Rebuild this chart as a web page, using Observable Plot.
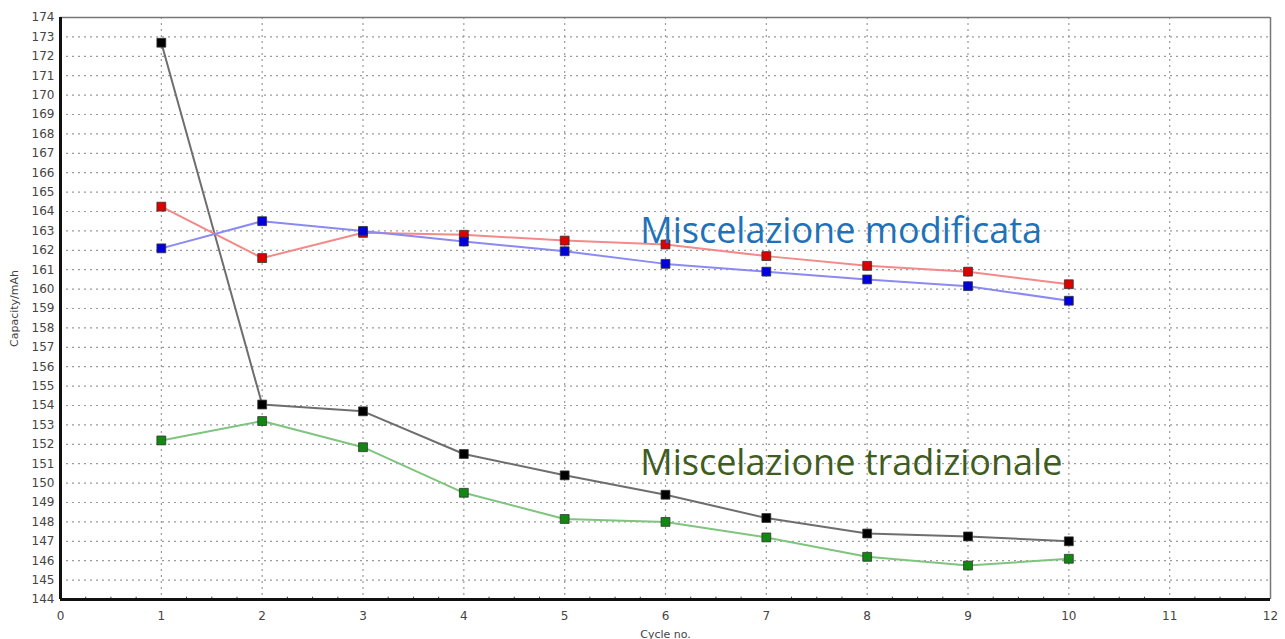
<!DOCTYPE html>
<html><head><meta charset="utf-8">
<script src="https://cdn.jsdelivr.net/npm/d3@7"></script>
<script src="https://cdn.jsdelivr.net/npm/@observablehq/plot@0.6"></script>
<style>body{margin:0;background:#fff;font-family:"DejaVu Sans",sans-serif}</style>
</head><body><div id="chart"></div>
<script>
const cycles = [1,2,3,4,5,6,7,8,9,10];
const blackVals = [172.7,154.05,153.7,151.5,150.4,149.4,148.2,147.4,147.25,147.0];
const greenVals = [152.2,153.2,151.85,149.5,148.15,148.0,147.2,146.2,145.75,146.1];
const redVals = [164.25,161.6,162.9,162.8,162.5,162.3,161.7,161.2,160.9,160.25];
const blueVals = [162.1,163.5,163.0,162.45,161.95,161.3,160.9,160.5,160.15,159.4];
const xTicks = d3.range(0,13);
const yTicks = d3.range(144,175);
const series = [
  {name:"black", vals:blackVals, line:"#6e6e6e", fill:"#000000"},
  {name:"green", vals:greenVals, line:"#7fc47f", fill:"#118811"},
  {name:"red", vals:redVals, line:"#f28a8a", fill:"#dd0000"},
  {name:"blue", vals:blueVals, line:"#8a8af2", fill:"#0000dd"}
];
const data = series.flatMap(s => cycles.map((c,i)=>({cycle:c, cap:s.vals[i], s:s.name})));
const lineColors = Object.fromEntries(series.map(s=>[s.name,s.line]));
const fillColors = Object.fromEntries(series.map(s=>[s.name,s.fill]));
const labels = [
  {x:5.75, y:162.95, text:"Miscelazione modificata", color:"#1f72b8"},
  {x:5.75, y:151.0, text:"Miscelazione tradizionale", color:"#3f5c22"}
];
const minorX = d3.range(0,12.01,0.25).filter(v=>v%1!==0);

const chart = Plot.plot({
  width:1285, height:639,
  marginLeft:60, marginTop:17, marginRight:15, marginBottom:40,
  style:{fontFamily:"DejaVu Sans, sans-serif", fontSize:"12px", color:"#444"},
  x:{domain:[0,12], ticks:xTicks, tickSize:0, tickPadding:12, label:"Cycle no.", labelArrow:"none", labelAnchor:"center", labelOffset:38},
  y:{domain:[144,174], ticks:yTicks, tickSize:0, tickPadding:6, label:"Capacity/mAh", labelArrow:"none", labelAnchor:"center", labelOffset:50},
  marks:[
    Plot.gridX(xTicks.filter(d=>d>0&&d<12), {stroke:"#9a9a9a", strokeOpacity:1, strokeDasharray:"2,4", strokeWidth:1.2}),
    Plot.gridY(yTicks.filter(d=>d>144&&d<174), {stroke:"#9a9a9a", strokeOpacity:1, strokeDasharray:"2,4", strokeWidth:1.2}),
    Plot.ruleX(minorX, {x:d=>d, y1:144, y2:144.12, stroke:"#444"}),
    Plot.ruleY([174], {stroke:"#777", strokeWidth:1.5}),
    Plot.ruleX([12], {stroke:"#777", strokeWidth:1.5}),
    Plot.ruleX([0], {stroke:"#111", strokeWidth:3}),
    Plot.ruleY([144], {stroke:"#111", strokeWidth:3}),
    Plot.line(data, {x:"cycle", y:"cap", z:"s", stroke:d=>lineColors[d.s], strokeWidth:2}),
    Plot.dot(data, {x:"cycle", y:"cap", symbol:"square", r:5, fill:d=>fillColors[d.s], stroke:"#333", strokeWidth:0.8}),
    Plot.text(labels, {x:"x", y:"y", text:"text", fill:d=>d.color, textAnchor:"start", fontSize:36, fontFamily:"Open Sans, sans-serif"})
  ]
});
chart.querySelectorAll("[aria-label='x-axis label'] text, [aria-label='y-axis label'] text").forEach(t=>t.setAttribute("font-size","11"));
document.getElementById("chart").appendChild(chart);
</script></body></html>
